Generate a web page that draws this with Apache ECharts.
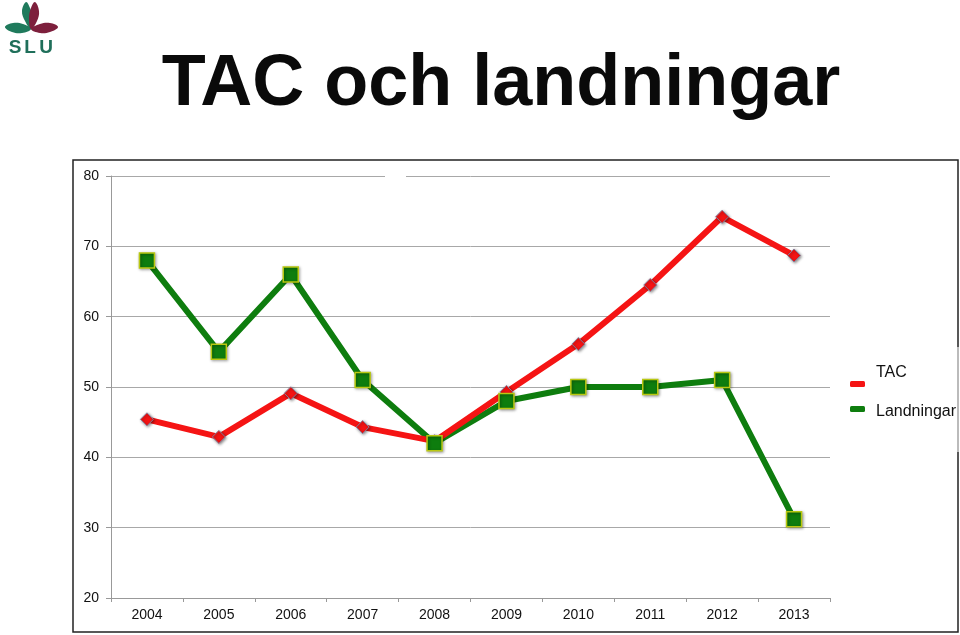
<!DOCTYPE html>
<html>
<head>
<meta charset="utf-8">
<script src="https://cdn.jsdelivr.net/npm/echarts@6/dist/echarts.min.js"></script>
<style>
html,body{margin:0;padding:0;background:#fff;}
#chart{width:960px;height:635px;}
</style>
</head>
<body>
<div id="chart"></div>
<script>
// Data
var years = ['2004','2005','2006','2007','2008','2009','2010','2011','2012','2013'];
var tac = [45.4, 42.9, 49.1, 44.3, 42.3, 49.3, 56.1, 64.5, 74.2, 68.7];
var landningar = [68, 55, 66, 51, 42, 48, 50, 50, 51, 31.2];
var seriesNames = ['TAC', 'Landningar'];
var titleText = 'TAC och landningar';

var RED = '#f51414';
var GREEN = '#0e7d0e';
var FONT = '"Liberation Sans", Arial, Helvetica, sans-serif';

var chart = echarts.init(document.getElementById('chart'), null, {renderer: 'canvas'});

function legendCfg(name, top, pad) {
  return {
    data: [name],
    left: 850, top: top, padding: 0,
    icon: 'roundRect', itemWidth: 15, itemHeight: 6, itemGap: 0,
    itemStyle: {borderWidth: 0, shadowBlur: 0},
    formatter: '{t|{name}}',
    textStyle: {
      fontFamily: FONT, fontSize: 16, color: '#111',
      rich: {t: {fontFamily: FONT, fontSize: 16, color: '#111', padding: pad}}
    }
  };
}

var option = {
  backgroundColor: '#ffffff',
  animation: false,
  grid: {left: 111, right: 130, top: 176, bottom: 37, containLabel: false},
  legend: [
    legendCfg(seriesNames[0], 365, [0, 0, 22, 6]),
    legendCfg(seriesNames[1], 404, [6, 0, 0, 6])
  ],
  xAxis: {
    type: 'category',
    data: years,
    boundaryGap: true,
    axisLine: {lineStyle: {color: '#999', width: 1}},
    axisTick: {show: true, alignWithLabel: false, length: 4, lineStyle: {color: '#999'}},
    axisLabel: {fontFamily: FONT, fontSize: 14, color: '#111', margin: 10}
  },
  yAxis: {
    type: 'value',
    min: 20, max: 80, interval: 10,
    axisLine: {show: true, lineStyle: {color: '#999', width: 1}},
    axisTick: {show: true, length: 5, lineStyle: {color: '#999'}},
    axisLabel: {fontFamily: FONT, fontSize: 14, color: '#111', margin: 12},
    splitLine: {show: true, lineStyle: {color: '#a8a8a8', width: 1}}
  },
  series: [
    {
      name: seriesNames[1],
      type: 'line',
      data: landningar,
      z: 2,
      lineStyle: {color: GREEN, width: 6},
      itemStyle: {color: GREEN},
      showSymbol: false,
      symbol: 'rect'
    },
    {
      name: seriesNames[0],
      type: 'line',
      data: tac,
      z: 3,
      symbol: 'diamond',
      symbolSize: 13,
      lineStyle: {color: RED, width: 6},
      itemStyle: {color: RED, borderColor: '#8a7d9a', borderWidth: 1,
        shadowBlur: 3, shadowColor: 'rgba(0,0,0,0.45)', shadowOffsetX: 1, shadowOffsetY: 1}
    },
    {
      name: seriesNames[1],
      type: 'scatter',
      data: landningar,
      z: 4,
      symbol: 'rect',
      symbolSize: 15,
      itemStyle: {color: GREEN, borderColor: '#b9c812', borderWidth: 1.5, opacity: 1,
        shadowBlur: 3, shadowColor: 'rgba(0,0,0,0.4)', shadowOffsetX: 1, shadowOffsetY: 1}
    }
  ],
  graphic: [
    {type: 'rect', z: 100, shape: {x: 385, y: 172, width: 21, height: 8}, style: {fill: '#fff'}},
    {type: 'rect', z: 100, shape: {x: 73, y: 160, width: 885, height: 472},
      style: {fill: 'none', stroke: '#222', lineWidth: 1.5}},
    {type: 'line', z: 101, shape: {x1: 958, y1: 347, x2: 958, y2: 452},
      style: {stroke: '#bbb', lineWidth: 2}},
    {type: 'text', z: 100, x: 501, y: 85,
      style: {text: titleText, fontFamily: FONT, fontWeight: 'bold', fontSize: 72,
        fill: '#0a0a0a', textAlign: 'center', textVerticalAlign: 'middle'}},
    // SLU logo
    {type: 'polygon', z: 100, shape: {smooth: 0.4, points: [[26,2],[22,11],[25,21],[31,29],[33,18],[30,8]]},
      style: {fill: '#1f7a5c'}},
    {type: 'polygon', z: 100, shape: {smooth: 0.4, points: [[5,27],[13,23],[23,24],[31,29],[22,33],[12,32]]},
      style: {fill: '#1f7a5c'}},
    {type: 'polygon', z: 100, shape: {smooth: 0.4, points: [[35,2],[39,11],[37,21],[31,29],[29,18],[31,8]]},
      style: {fill: '#7d1f3c'}},
    {type: 'polygon', z: 100, shape: {smooth: 0.4, points: [[58,27],[50,23],[40,24],[31,29],[40,33],[50,32]]},
      style: {fill: '#7d1f3c'}},
    {type: 'text', z: 100, x: 15, y: 48,
      style: {text: 'S', fontFamily: FONT, fontWeight: 'bold', fontSize: 19,
        fill: '#1f6f5a', textAlign: 'center', textVerticalAlign: 'middle'}},
    {type: 'text', z: 100, x: 30, y: 48,
      style: {text: 'L', fontFamily: FONT, fontWeight: 'bold', fontSize: 19,
        fill: '#1f6f5a', textAlign: 'center', textVerticalAlign: 'middle'}},
    {type: 'text', z: 100, x: 46, y: 48,
      style: {text: 'U', fontFamily: FONT, fontWeight: 'bold', fontSize: 19,
        fill: '#1f6f5a', textAlign: 'center', textVerticalAlign: 'middle'}}
  ]
};

chart.setOption(option);
</script>
</body>
</html>
